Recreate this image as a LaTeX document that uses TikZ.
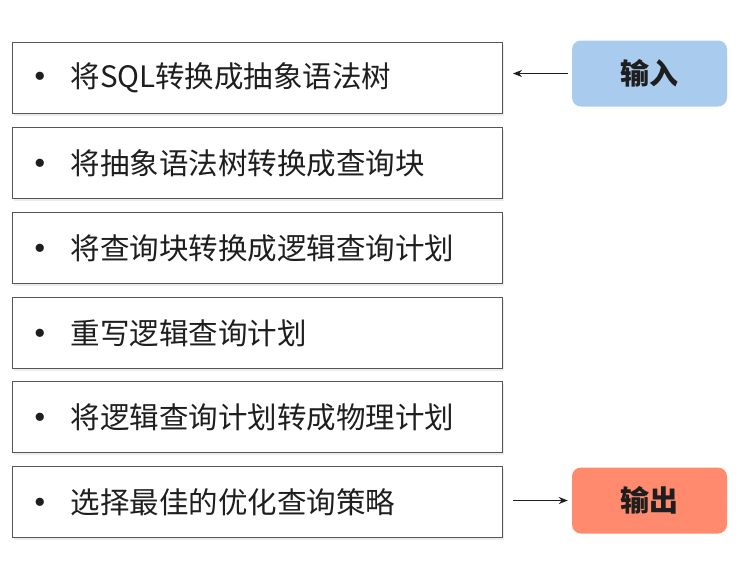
\documentclass[tikz,border=0pt]{standalone}
\usepackage{fontspec}
\setmainfont{Noto Sans CJK SC}
\usetikzlibrary{arrows.meta,shadows}
\definecolor{inblue}{HTML}{A9CBEE}
\definecolor{outred}{HTML}{FF8A6E}
\definecolor{txt}{HTML}{1E1E1E}
\definecolor{boxline}{HTML}{555555}
\newcommand{\bul}{\makebox[36pt][l]{\hspace{-9pt}\textbf{•}}}
\begin{document}
\begin{tikzpicture}[x=1pt,y=-1pt,
  stepbox/.style={draw=boxline, line width=1pt, fill=white, anchor=north west,
    minimum width=490pt, minimum height=71pt, inner xsep=22pt, inner ysep=0pt,
    text width=446pt, align=left, font=\fontsize{29.5}{33}\selectfont, text=txt,
    drop shadow={shadow xshift=1pt, shadow yshift=-2pt, opacity=0.15}},
  iobox/.style={rounded corners=9pt, minimum width=155pt, minimum height=66pt,
    font=\bfseries\fontsize{29}{32}\selectfont, text=txt},
  conn/.style={-{Stealth[length=9pt,width=7pt]}, line width=1.8pt, txt}]
\useasboundingbox (0,0) rectangle (744,576);
\fill[white] (0,0) rectangle (744,576);
\node[stepbox] (b1) at (12,42)  {\bul 将SQL转换成抽象语法树};
\node[stepbox] (b2) at (12,127) {\bul 将抽象语法树转换成查询块};
\node[stepbox] (b3) at (12,212) {\bul 将查询块转换成逻辑查询计划};
\node[stepbox] (b4) at (12,297) {\bul 重写逻辑查询计划};
\node[stepbox] (b5) at (12,381) {\bul 将逻辑查询计划转成物理计划};
\node[stepbox] (b6) at (12,466) {\bul 选择最佳的优化查询策略};
\node[iobox, fill=inblue] (in) at (649.5,73.5) {输入};
\node[iobox, fill=outred] (out) at (649.5,500.5) {输出};
\draw[conn, shorten <=4pt, shorten >=10pt] (in.west) -- (in.west -| b1.east);
\draw[conn, shorten <=10pt, shorten >=4pt] (out.west -| b6.east) -- (out.west);
\end{tikzpicture}
\end{document}
